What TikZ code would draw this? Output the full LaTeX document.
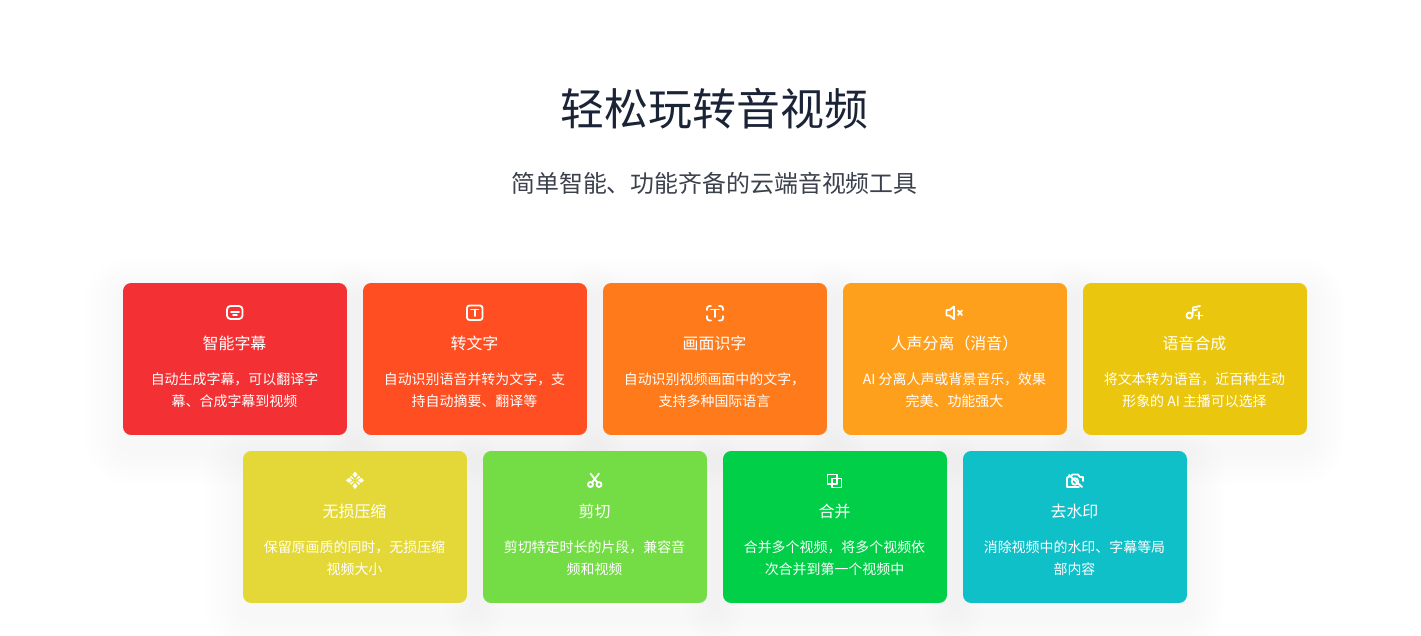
\documentclass[tikz,border=0pt]{standalone}
\usepackage{fontspec}
\usepackage{xcolor}
\newfontfamily\cjk{Noto Sans CJK SC}
\usetikzlibrary{backgrounds,positioning,calc}
\definecolor{titlecol}{HTML}{1B2337}
\definecolor{subcol}{HTML}{3A404C}
\definecolor{cred}{HTML}{F33134}
\definecolor{ctomato}{HTML}{FF4E22}
\definecolor{corange}{HTML}{FF7A1A}
\definecolor{camber}{HTML}{FFA01D}
\definecolor{cgold}{HTML}{EBC60E}
\definecolor{cyellow}{HTML}{E4D838}
\definecolor{clime}{HTML}{74DD45}
\definecolor{cgreen}{HTML}{00CF47}
\definecolor{cteal}{HTML}{0FC0C9}

\begin{document}
\begin{tikzpicture}
[x=0.02cm,y=-0.02cm,
card/.style={rectangle,rounded corners=0.16cm,minimum width=4.48cm,minimum height=3.04cm,inner sep=0pt},
cardtitle/.style={text=white,inner sep=0pt,font=\fontsize{9.07}{11}\selectfont\cjk},
carddesc/.style={text=white,inner sep=0pt,align=center,font=\fontsize{7.94}{12.47}\selectfont\cjk},
halo/.style={draw=black,draw opacity=0.0038,line width=#1,line join=round},
cardshadow/.style={rounded corners=0.16cm,
  preaction={halo=1.5cm},preaction={halo=1.3cm},preaction={halo=1.1cm},
  preaction={halo=0.9cm},preaction={halo=0.7cm},preaction={halo=0.5cm},halo=0.3cm},
icon/.style={draw=white,line width=1.05pt,line cap=round,line join=round},
iconfill/.style={fill=white,draw=none}]
\useasboundingbox (0,0) rectangle (1421,636);

\node (title) at (714.5,108.5)[text=titlecol,font=\fontsize{25}{30}\selectfont\cjk] {轻松玩转音视频};
\node (sub) at (714.5,183.5)[text=subcol,font=\fontsize{13.6}{16}\selectfont\cjk] {简单智能、功能齐备的云端音视频工具};

% first row
\node (c1) at (235,359)[card,fill=cred] {};
\node (c2) at (475,359)[card,fill=ctomato] {};
\node (c3) at (715,359)[card,fill=corange] {};
\node (c4) at (955,359)[card,fill=camber] {};
\node (c5) at (1195,359)[card,fill=cgold] {};
% second row
\node (c6) at (355,527)[card,fill=cyellow] {};
\node (c7) at (595,527)[card,fill=clime] {};
\node (c8) at (835,527)[card,fill=cgreen] {};
\node (c9) at (1075,527)[card,fill=cteal] {};

\begin{scope}[on background layer]
\path[cardshadow] ([yshift=-0.24cm]c1.north west) rectangle ([yshift=-0.24cm]c1.south east);
\path[cardshadow] ([yshift=-0.24cm]c2.north west) rectangle ([yshift=-0.24cm]c2.south east);
\path[cardshadow] ([yshift=-0.24cm]c3.north west) rectangle ([yshift=-0.24cm]c3.south east);
\path[cardshadow] ([yshift=-0.24cm]c4.north west) rectangle ([yshift=-0.24cm]c4.south east);
\path[cardshadow] ([yshift=-0.24cm]c5.north west) rectangle ([yshift=-0.24cm]c5.south east);
\path[cardshadow] ([yshift=-0.24cm]c6.north west) rectangle ([yshift=-0.24cm]c6.south east);
\path[cardshadow] ([yshift=-0.24cm]c7.north west) rectangle ([yshift=-0.24cm]c7.south east);
\path[cardshadow] ([yshift=-0.24cm]c8.north west) rectangle ([yshift=-0.24cm]c8.south east);
\path[cardshadow] ([yshift=-0.24cm]c9.north west) rectangle ([yshift=-0.24cm]c9.south east);
\end{scope}

\node (t1) at (234.5,343)[cardtitle] {智能字幕};
\node (t2) at (474.5,343)[cardtitle] {转文字};
\node (t3) at (714.5,343)[cardtitle] {画面识字};
\node (t4) at (954.5,343)[cardtitle] {人声分离（消音）};
\node (t5) at (1194.5,343)[cardtitle] {语音合成};
\node (t6) at (354.5,511)[cardtitle] {无损压缩};
\node (t7) at (594.5,511)[cardtitle] {剪切};
\node (t8) at (834.5,511)[cardtitle] {合并};
\node (t9) at (1074.5,511)[cardtitle] {去水印};

\node (d1) at (234.5,390)[carddesc] {自动生成字幕，可以翻译字\\幕、合成字幕到视频};
\node (d2) at (474.5,390)[carddesc] {自动识别语音并转为文字，支\\持自动摘要、翻译等};
\node (d3) at (714.5,390)[carddesc] {自动识别视频画面中的文字，\\支持多种国际语言};
\node (d4) at (954.5,390)[carddesc] {AI 分离人声或背景音乐，效果\\完美、功能强大};
\node (d5) at (1194.5,390)[carddesc] {将文本转为语音，近百种生动\\形象的 AI 主播可以选择};
\node (d6) at (354.5,558)[carddesc] {保留原画质的同时，无损压缩\\视频大小};
\node (d7) at (594.5,558)[carddesc] {剪切特定时长的片段，兼容音\\频和视频};
\node (d8) at (834.5,558)[carddesc] {合并多个视频，将多个视频依\\次合并到第一个视频中};
\node (d9) at (1074.5,558)[carddesc] {消除视频中的水印、字幕等局\\部内容};

% icons
\draw[icon,rounded corners=0.07cm] (227,306) rectangle (242.5,319);
\draw[icon] (231,312) -- (239,312);
\draw[icon] (233,315) -- (237,315);

\draw[icon,rounded corners=0.05cm] (467,305.5) rectangle (482.5,320);
\draw[icon] (471,309.5) -- (478.5,309.5);
\draw[icon] (474.8,309.5) -- (474.8,316);

\draw[icon,rounded corners=0.05cm] (707,310) -- (707,306) -- (711,306);
\draw[icon,rounded corners=0.05cm] (719,306) -- (723,306) -- (723,310);
\draw[icon,rounded corners=0.05cm] (723,316) -- (723,320.5) -- (719,320.5);
\draw[icon,rounded corners=0.05cm] (711,320.5) -- (707,320.5) -- (707,316);
\draw[icon] (711,309.5) -- (719,309.5);
\draw[icon] (715,309.5) -- (715,317);

\draw[icon] (946.5,310) -- (949.5,310) -- (954,306.5) -- (954,319) -- (949.5,315.5) -- (946.5,315.5) -- cycle;
\draw[icon] (958,310.5) -- (962,315);
\draw[icon] (962,310.5) -- (958,315);

\draw[icon] (1189.5,315.5) circle (0.06cm);
\draw[icon] (1192.5,315.5) -- (1193,307.5) -- (1200,306);
\draw[icon] (1193,310.5) -- (1197,309.5);
\draw[icon] (1195.5,315.5) -- (1202.5,315.5);
\draw[icon] (1199,312) -- (1199,319);

\fill[iconfill] (355,471.5) -- (357.5,474.5) -- (355,477.5) -- (352.5,474.5) -- cycle;
\fill[iconfill] (355,489) -- (357.5,486) -- (355,483) -- (352.5,486) -- cycle;
\fill[iconfill] (346,480.3) -- (349,477.8) -- (352,480.3) -- (349,482.8) -- cycle;
\fill[iconfill] (364,480.3) -- (361,477.8) -- (358,480.3) -- (361,482.8) -- cycle;
\fill[iconfill] (351,475.5) -- (354.5,479.8) -- (350,477.5) -- cycle;
\fill[iconfill] (359,475.5) -- (355.5,479.8) -- (360,477.5) -- cycle;
\fill[iconfill] (351,485) -- (354.5,480.8) -- (350,483) -- cycle;
\fill[iconfill] (359,485) -- (355.5,480.8) -- (360,483) -- cycle;

\draw[icon] (590.5,484.5) circle (0.05cm);
\draw[icon] (599,484.5) circle (0.05cm);
\draw[icon] (592.5,482) -- (599,473.5);
\draw[icon] (597,482) -- (590.5,473.5);

\draw[icon] (827.5,474.5) rectangle (837,484);
\draw[icon] (832,478.5) rectangle (841.5,487.5);

\draw[icon] (1071,476) -- (1072.5,474.5) -- (1078,474.5) -- (1080,477) -- (1083,477) -- (1083,481);
\draw[icon] (1079,487) -- (1067,487) -- (1067,477.5) -- (1069,477);
\draw[icon] (1075,481.5) circle (0.065cm);
\draw[icon] (1069,475) -- (1082,487);
\end{tikzpicture}
\end{document}
